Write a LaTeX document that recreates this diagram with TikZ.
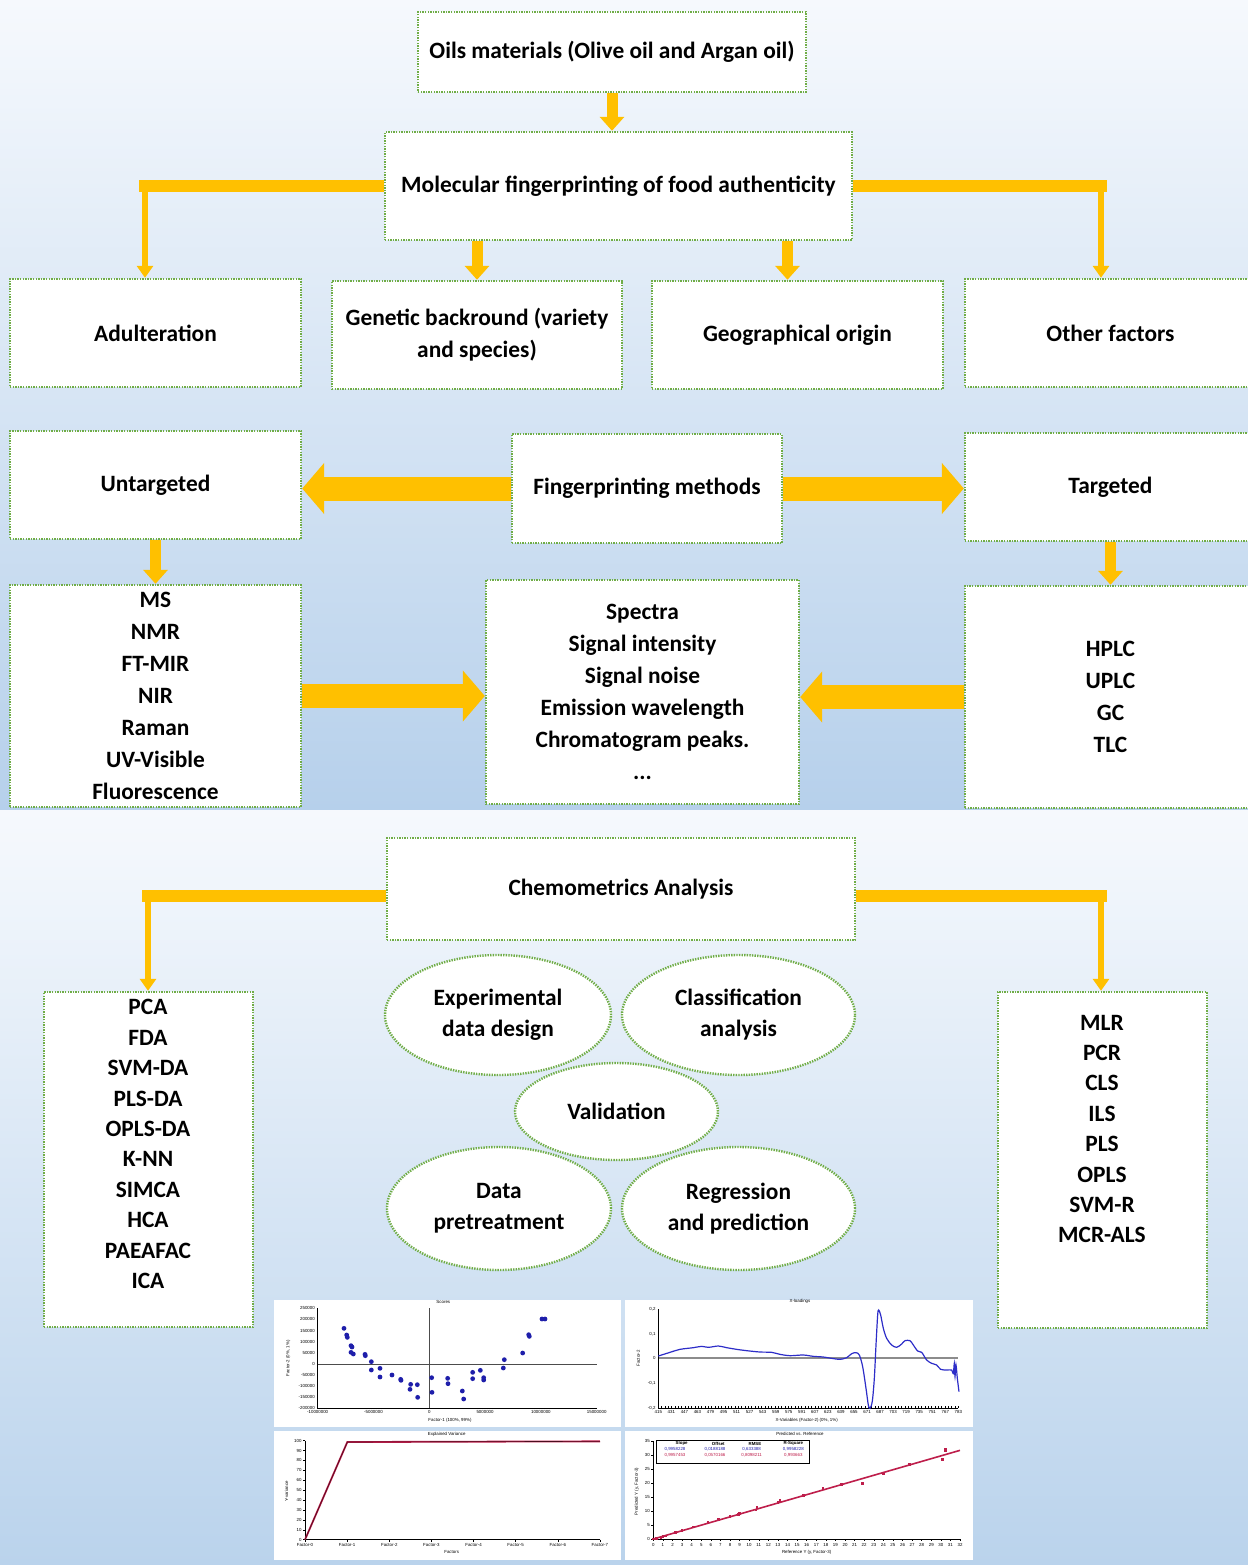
\documentclass[tikz,border=0pt]{standalone}
\usepackage{fontspec}
\setmainfont{Carlito}
\newfontfamily\plotfont{Liberation Sans}
\usetikzlibrary{arrows.meta,positioning,shapes.geometric}
\definecolor{oilgold}{RGB}{255,192,0}
\definecolor{dotgreen}{RGB}{112,173,71}
\definecolor{skytop}{RGB}{246,249,253}
\definecolor{skymid}{RGB}{197,219,240}
\definecolor{skylow}{RGB}{182,208,235}
\definecolor{skyend}{RGB}{186,211,236}
\definecolor{scoreblue}{RGB}{30,30,170}
\definecolor{loadblue}{RGB}{45,45,200}
\definecolor{fitred}{RGB}{190,30,75}

\begin{document}
\begin{tikzpicture}[x=0.5pt,y=-0.5pt,
  box/.style={draw=dotgreen,line width=1.2pt,dash pattern=on 0.7pt off 0.6pt,fill=white,align=center,inner sep=2pt,font=\bfseries\fontsize{11.7}{16}\selectfont},
  listtext/.style={align=center,inner sep=0pt,font=\bfseries\fontsize{11.7}{15.2}\selectfont},
  blob/.style={box,ellipse,inner sep=0pt,font=\bfseries\fontsize{11.7}{15.5}\selectfont},
  arr/.style={draw=oilgold,line width=5.5pt,-{Triangle[width=12pt,length=7pt]}},
  elbow/.style={draw=oilgold,line width=3pt,-{Triangle[width=8pt,length=6pt]}},
  bar/.style={draw=oilgold,line width=6pt},
  fat/.style={draw=oilgold,line width=12pt,-{Triangle[width=25pt,length=11pt]}},
  ticklbl/.style={font=\plotfont\fontsize{2.2}{2.6}\selectfont,inner sep=0.4pt},
  panel/.style={fill=white}
]
\useasboundingbox (0,0) rectangle (1248,1565);
% background
\shade[top color=skytop,middle color=skymid,bottom color=skylow] (0,0) rectangle (1248,810);
\shade[top color=skytop,bottom color=skyend] (0,810) rectangle (1248,1565);

% first level
\node[box,minimum width=194pt,minimum height=40pt] (oils) at (612,52) {Oils materials (Olive oil and Argan oil)};
\node[box,minimum width=233.5pt,minimum height=54pt] (mol) at (618.5,186) {Molecular fingerprinting of food authenticity};
\node[box,minimum width=145.5pt,minimum height=54pt] (adult) at (155.5,333) {Adulteration};
\node[box,minimum width=145pt,minimum height=54pt] (genetic) at (477,335) {Genetic backround (variety\\and species)};
\node[box,minimum width=145.5pt,minimum height=54pt] (geo) at (797.5,335) {Geographical origin};
\node[box,minimum width=145.5pt,minimum height=54pt] (other) at (1110.5,333) {Other factors};

\draw[arr] (oils.south) -- (oils.south |- mol.north);
\draw[arr] (mol.south -| genetic.north) -- (genetic.north);
\coordinate (gx) at ([xshift=-5pt]geo.north);
\draw[arr] (mol.south -| gx) -- (gx);
\coordinate (cl) at (145,186);
\coordinate (cr) at (1101,186);
\draw[bar] (mol.west) -- ([xshift=-3pt]cl);
\draw[bar] (mol.east) -- ([xshift=3pt]cr);
\draw[elbow] (cl) -- (cl |- adult.north);
\draw[elbow] (cr) -- (cr |- other.north);

% fingerprinting methods
\node[box,minimum width=145.5pt,minimum height=54pt] (unt) at (155.5,485) {Untargeted};
\node[box,minimum width=135pt,minimum height=54.5pt] (fp) at (647,488.5) {Fingerprinting methods};
\node[box,minimum width=145.5pt,minimum height=54pt] (tar) at (1110.5,487) {Targeted};
\node[box,minimum width=145.5pt,minimum height=111pt] (tech) at (155.5,696) {MS\\NMR\\FT-MIR\\NIR\\Raman\\UV-Visible\\Fluorescence};
\node[box,minimum width=156.5pt,minimum height=112pt] (feat) at (642.5,692) {Spectra\\Signal intensity\\Signal noise\\Emission wavelength\\Chromatogram peaks.\\...};
\node[box,minimum width=145.5pt,minimum height=111pt] (chrom) at (1110.5,697) {HPLC\\UPLC\\GC\\TLC};

\draw[fat] (fp.west) -- (fp.west -| unt.east);
\draw[fat] (fp.east) -- (fp.east -| tar.west);
\draw[arr] (unt.south) -- (tech.north);
\draw[arr] (tar.south) -- (chrom.north);
\draw[fat] (tech.east) -- (tech.east -| feat.west);
\draw[fat] (chrom.west) -- (chrom.west -| feat.east);

% chemometrics
\node[box,minimum width=234pt,minimum height=51pt] (chemo) at (621,889) {Chemometrics Analysis};
\node[box,minimum width=104.5pt,minimum height=167.5pt] (cls) at (148.5,1159.5) {};
\node[listtext] (clstext) at (148,1144) {PCA\\FDA\\SVM-DA\\PLS-DA\\OPLS-DA\\K-NN\\SIMCA\\HCA\\PAEAFAC\\ICA};
\node[box,minimum width=104.5pt,minimum height=168pt] (reg) at (1102.5,1160) {};
\node[listtext] (regtext) at (1102,1129) {MLR\\PCR\\CLS\\ILS\\PLS\\OPLS\\SVM-R\\MCR-ALS};
\coordinate (ccl) at (148,896);
\coordinate (ccr) at (1101,896);
\draw[bar] (ccl -| chemo.west) -- ([xshift=-3pt]ccl);
\draw[bar] (ccr -| chemo.east) -- ([xshift=3pt]ccr);
\draw[elbow] (ccl) -- (ccl |- cls.north);
\draw[elbow] (ccr) -- (ccr |- reg.north);

\node[blob,minimum width=113pt,minimum height=60pt] (exp) at (498,1015) {Experimental\\data design};
\node[blob,minimum width=116.5pt,minimum height=60pt] (cla) at (738.5,1015) {Classification\\analysis};
\node[blob,minimum width=101.5pt,minimum height=48.5pt] (val) at (616.5,1111.5) {Validation};
\node[blob,minimum width=112pt,minimum height=61.5pt] (pre) at (499,1208.5) {Data\\pretreatment};
\node[blob,minimum width=116.5pt,minimum height=61.5pt] (rgr) at (738.5,1208.5) {Regression\\and prediction};

% scores plot
\begin{scope}[shift={(270,1295)},scale=1/3]
  \fill[panel] (12,15) rectangle (1053,396);
  \draw[line width=0.25pt] (143,40) -- (143,340) -- (980,340);
  \draw[line width=0.3pt,black!70] (143,207) -- (980,207) (477,40) -- (477,340);
  \foreach \v [count=\i from 0] in {250000,200000,150000,100000,50000,0,-50000,-100000,-150000,-200000}
    \node[ticklbl,anchor=east] at (138,40+\i*33.33) {\v};
  \foreach \v [count=\i from 0] in {-10000000,-5000000,0,5000000,10000000,15000000}
    \node[ticklbl] at (143+\i*167.4,352) {\v};
  \node[ticklbl] at (520,20) {Scores};
  \node[ticklbl] at (540,376) {Factor-1 (100\%, 99\%)};
  \node[ticklbl,rotate=90] at (55,190) {Factor-2 (0\%, 1\%)};
  \foreach \p in {(222,100),(230,120),(232,127),(243,152),(246,156),(243,172),(250,177),(285,178),(286,182),(304,200),(304,225),(330,220),(330,246),(366,240),(392,253),(393,256),(422,268),(420,283),(442,269),(443,307),(485,248),(486,292),(533,250),(534,266),(577,288),(581,312),(608,232),(608,251),(631,226),(641,248),(641,255),(700,219),(703,194),(758,174),(776,119),(778,124),(816,72),(825,72)}
    \fill[scoreblue] \p circle[radius=3.6pt];
\end{scope}

% x-loadings plot
\begin{scope}[shift={(620,1295)},scale=1/3]
  \fill[panel] (15,15) rectangle (1059,396);
  \draw[line width=1pt,black!45] (115,190) -- (1015,190);
  \draw[line width=0.25pt] (115,42) -- (115,340) -- (1015,340);
  \foreach \i in {0,...,90} \draw[line width=0.2pt] (115+\i*10,340) -- (115+\i*10,334);
  \foreach \v/\y in {0{,}2/42,0{,}1/117,0/190,-0{,}1/265,-0{,}2/340}
    \node[ticklbl,anchor=east] at (110,\y) {\v};
  \foreach \v [count=\i from 0] in {415,431,447,463,479,495,511,527,543,559,575,591,607,623,639,655,671,687,703,719,735,751,767,783}
    \node[ticklbl] at (115+\i*39.13,352) {\v};
  \node[ticklbl] at (540,18) {X-loadings};
  \node[ticklbl] at (560,375) {X-Variables (Factor-2) (0\%, 1\%)};
  \node[ticklbl,rotate=90] at (55,190) {Factor-2};
  \draw[loadblue,line width=0.6pt] plot[smooth] coordinates {(115,183) (150,172) (180,163) (220,158) (245,154) (265,157) (295,153) (320,158) (350,163) (380,167) (420,171) (455,172) (480,178) (510,182) (550,180) (580,184) (610,186) (635,190) (660,193) (680,188) (695,176) (708,173) (718,180) (728,215) (738,280) (745,330) (750,340) (757,318) (763,250) (768,150) (773,60) (776,45) (782,60) (790,100) (800,130) (815,150) (830,157) (845,147) (855,137) (870,137) (880,150) (893,168) (905,172) (920,195) (935,205) (950,210) (962,223) (980,225) (995,225) (1000,236) (1003,205) (1005,245) (1008,210) (1012,250) (1017,290)};
\end{scope}

% explained variance plot
\begin{scope}[shift={(270,1428)},scale=1/3]
  \fill[panel] (12,9) rectangle (1053,396);
  \draw[line width=0.25pt] (105,38) -- (105,335) -- (990,335);
  \foreach \v in {0,10,...,100} {
    \node[ticklbl,anchor=east] at (98,335-\v*2.97) {\v};
    \draw[line width=0.2pt] (105,335-\v*2.97) -- (99,335-\v*2.97);
  }
  \foreach \i in {0,...,7} {
    \node[ticklbl] at (105+\i*126.4,352) {Factor-\i};
    \draw[line width=0.2pt] (105+\i*126.4,335) -- (105+\i*126.4,341);
  }
  \node[ticklbl] at (530,18) {Explained Variance};
  \node[ticklbl] at (545,372) {Factors};
  \node[ticklbl,rotate=90] at (50,190) {Y-variance};
  \draw[fitred,line width=0.9pt] (105,335) -- (232,42) -- (990,40);
  \draw[black!60!fitred,line width=0.3pt] (105,335) -- (232,42) -- (990,40);
\end{scope}

% predicted vs reference plot
\begin{scope}[shift={(620,1428)},scale=1/3]
  \fill[panel] (15,9) rectangle (1059,396);
  \draw[line width=0.25pt] (100,40) -- (100,333) -- (1020,333);
  \foreach \v in {0,5,...,35} {
    \node[ticklbl,anchor=east] at (93,333-\v*8.37) {\v};
    \draw[line width=0.2pt] (100,333-\v*8.37) -- (94,333-\v*8.37);
  }
  \foreach \i in {0,...,32} {
    \node[ticklbl] at (100+\i*28.75,350) {\i};
    \draw[line width=0.2pt] (100+\i*28.75,333) -- (100+\i*28.75,338);
  }
  \node[ticklbl] at (540,18) {Predicted vs. Reference};
  \node[ticklbl] at (560,372) {Reference Y (y, Factor-3)};
  \node[ticklbl,rotate=90] at (50,190) {Predicted Y (y, Factor-3)};
  \draw[fitred,line width=0.8pt] (100,333) -- (1020,67);
  \foreach \r/\p in {0/0,0.3/0.2,0.8/0.6,1/1,1.3/1.1,2.3/2.3,3/3.1,4.2/4.3,5.7/5.9,6.8/6.9,8/8,8.9/8.7,9/9.2,10.7/10.4,10.8/11.3,13/13.2,13.2/13.8,15.7/15.6,17.7/18.1,19.6/19.6,21.8/19.9,24/23.6,26.7/26.6,30.2/28.5,30.5/31.6,30.5/32.2}
    \fill[fitred] ({100+28.75*\r-4},{333-8.37*\p-4}) rectangle ({100+28.75*\r+4},{333-8.37*\p+4});
  \draw[fill=white,line width=0.5pt] (108,37) rectangle (568,105);
  \foreach \h/\x in {Slope/185,Offset/295,RMSE/405,R-Square/520}
    \node[ticklbl,font=\plotfont\bfseries\fontsize{2.2}{2.6}\selectfont] at (\x,47) {\h};
  \foreach \h/\x in {0{,}9958228/165,0{,}0188188/285,0{,}633388/395,0{,}9958228/520}
    \node[ticklbl,text=scoreblue] at (\x,64) {\h};
  \foreach \h/\x in {0{,}9957453/165,0{,}0570166/285,0{,}8098211/395,0{,}993663/520}
    \node[ticklbl,text=fitred] at (\x,82) {\h};
\end{scope}
\end{tikzpicture}
\end{document}
